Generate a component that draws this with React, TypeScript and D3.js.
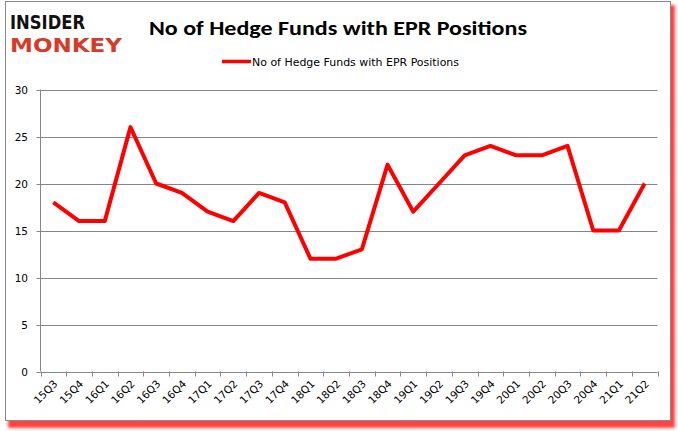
import React from "react";
import * as d3 from "d3";

const categories = ["15Q3","15Q4","16Q1","16Q2","16Q3","16Q4","17Q1","17Q2","17Q3","17Q4","18Q1","18Q2","18Q3","18Q4","19Q1","19Q2","19Q3","19Q4","20Q1","20Q2","20Q3","20Q4","21Q1","21Q2"];
const values = [18,16,16,26,20,19,17,16,19,18,12,12,13,22,17,20,23,24,23,23,24,15,15,20];
const yTicks = [0,5,10,15,20,25,30];
const seriesName = "No of Hedge Funds with EPR Positions";
const title = "No of Hedge Funds with EPR Positions";

export default function App() {
  const W = 678, H = 431;
  const left = 40.5, right = 657.5, top = 89.5, bottom = 371.5;
  const x = d3.scaleBand<string>().domain(categories).range([left, right]);
  const y = d3.scaleLinear().domain([0, 30]).range([bottom, top]);
  const line = d3.line<number>()
    .x((_, i) => (x(categories[i]) as number) + x.bandwidth() / 2)
    .y((d) => y(d));
  const tickXs = categories.map((c) => x(c) as number).concat([right]);
  const font = "'DejaVu Sans', Verdana, sans-serif";
  return (
    <svg width={W} height={H} style={{ position: "absolute", left: 0, top: 0 }} fontFamily={font}>
      <defs>
        <filter id="blur" x="-5%" y="-5%" width="110%" height="110%">
          <feGaussianBlur stdDeviation="1.5" />
        </filter>
      </defs>
      <rect x={0} y={0} width={W} height={H} fill="#fff" />
      <rect x={8} y={5} width={667} height={423} fill="#ff2020" opacity={0.85} filter="url(#blur)" />
      <rect x={5.5} y={1.5} width={665} height={419} fill="#fff" stroke="#8a8a8a" strokeWidth={1} />
      {/* logo */}
      <text x={10} y={29} fontFamily="'DejaVu Sans', sans-serif" fontWeight={900} fontSize={19} fill="#111" textLength={75} lengthAdjust="spacingAndGlyphs">INSIDER</text>
      <text x={10} y={51.5} fontFamily="'DejaVu Sans', sans-serif" fontWeight={900} fontSize={19} fill="#d63a2a" textLength={112} lengthAdjust="spacingAndGlyphs">MONKEY</text>
      {/* title */}
      <text x={338} y={35} textAnchor="middle" fontFamily="Carlito, 'Open Sans', sans-serif" fontWeight={700} fontSize={20} fill="#000" textLength={378} lengthAdjust="spacingAndGlyphs">{title}</text>
      {/* legend */}
      <line x1={222} x2={251} y1={61.5} y2={61.5} stroke="#ff0000" strokeWidth={3.5} />
      <text x={252} y={65.5} fontSize={10.5} fill="#000" textLength={207} lengthAdjust="spacingAndGlyphs">{seriesName}</text>
      {/* grid */}
      {yTicks.map((t) => (
        <g key={t}>
          <line x1={left} x2={right} y1={Math.round(y(t)) + 0.5} y2={Math.round(y(t)) + 0.5} stroke="#868686" strokeWidth={1} />
          <line x1={left - 4} x2={left} y1={Math.round(y(t)) + 0.5} y2={Math.round(y(t)) + 0.5} stroke="#868686" />
          <text x={28} y={y(t) + 4} textAnchor="end" fontSize={10.5} fill="#000">{t}</text>
        </g>
      ))}
      <line x1={left} x2={left} y1={top} y2={bottom} stroke="#868686" />
      {tickXs.map((tx, i) => (
        <line key={i} x1={Math.round(tx) + 0.5} x2={Math.round(tx) + 0.5} y1={bottom} y2={bottom + 5} stroke="#868686" />
      ))}
      {categories.map((c) => {
        const cx = (x(c) as number) + x.bandwidth() / 2 + 5;
        const cy = bottom + 13;
        return (
          <text key={c} x={cx} y={cy} transform={`rotate(-45 ${cx} ${cy})`} textAnchor="end" fontSize={10.5} fill="#000">{c}</text>
        );
      })}
      <path d={line(values) || ""} fill="none" stroke="#ff0000" strokeWidth={4} strokeLinejoin="round" />
    </svg>
  );
}
